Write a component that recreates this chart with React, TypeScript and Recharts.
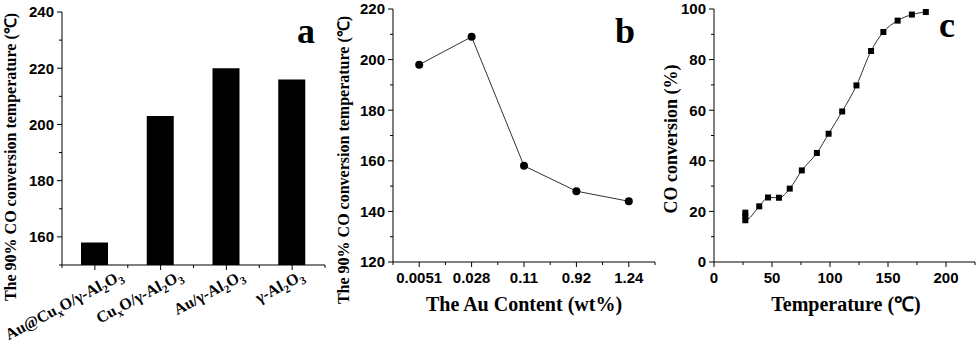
import React from 'react';
import { BarChart, Bar, LineChart, Line, XAxis, YAxis } from 'recharts';

// ---------- data ----------
const catalystNames = ['Au@Cu_xO/γ-Al_2O_3', 'Cu_xO/γ-Al_2O_3', 'Au/γ-Al_2O_3', 'γ-Al_2O_3'];
const t90Temps = [158, 203, 220, 216];

const auContents = ['0.0051', '0.028', '0.11', '0.92', '1.24'];
const auT90 = [198, 209, 158, 148, 144];

const tempC = [27, 27, 27, 39, 46.6, 56, 65.3, 75.7, 88.7, 98.8, 110.5, 122.8, 135.4, 146, 158.3, 170.6, 182.6];
const coConv = [19.5, 18, 16.5, 22, 25.5, 25.4, 29, 36.2, 43.1, 50.7, 59.5, 69.8, 83.4, 90.9, 95.4, 97.8, 98.8];

const yTicksA = [150, 160, 170, 180, 190, 200, 210, 220, 230, 240];
const yTicksB = [120, 130, 140, 150, 160, 170, 180, 190, 200, 210, 220];
const yTicksC = [0, 10, 20, 30, 40, 50, 60, 70, 80, 90, 100];
const xTicksC = [0, 25, 50, 75, 100, 125, 150, 175, 200, 225];

const barData = catalystNames.map((name, i) => ({ name, value: t90Temps[i] }));
const auData = auContents.map((name, i) => ({ name, value: auT90[i] }));
const convData = tempC.map((t, i) => ({ t, v: coConv[i] }));

// ---------- styles ----------
const SANS = "'Liberation Sans', Arial, sans-serif";
const SERIF = "'Liberation Serif', 'Times New Roman', serif";
const INK = '#000';

function parseRich(label: string) {
  const segs: { text: string; sub: boolean }[] = [];
  let buf = '';
  for (let i = 0; i < label.length; i++) {
    if (label[i] === '_') {
      if (buf) segs.push({ text: buf, sub: false });
      buf = '';
      segs.push({ text: label[i + 1], sub: true });
      i++;
    } else buf += label[i];
  }
  if (buf) segs.push({ text: buf, sub: false });
  return segs;
}

const YTick = (major: number) => (props: any) => {
  const { x, y, payload } = props;
  const isMajor = payload.value % major === 0;
  return (
    <g>
      <line x1={x - (isMajor ? 5 : 3)} x2={x} y1={y} y2={y} stroke={INK} strokeWidth={1} />
      {isMajor && (
        <text x={x - 8} y={y} dy="0.36em" textAnchor="end" fontFamily={SANS} fontWeight="bold" fontSize={15} fill={INK}>
          {payload.value}
        </text>
      )}
    </g>
  );
};

const XTickNum = (major: number) => (props: any) => {
  const { x, y, payload } = props;
  const isMajor = payload.value % major === 0;
  return (
    <g>
      <line x1={x} x2={x} y1={y} y2={y + (isMajor ? 5 : 3)} stroke={INK} strokeWidth={1} />
      {isMajor && (
        <text x={x} y={y + 21} textAnchor="middle" fontFamily={SANS} fontWeight="bold" fontSize={15} fill={INK}>
          {payload.value}
        </text>
      )}
    </g>
  );
};

const XTickCatB = (props: any) => {
  const { x, y, payload, index, visibleTicksCount } = props;
  const half = payload.offset || 26.2;
  const last = index === (visibleTicksCount ?? auContents.length) - 1;
  return (
    <g>
      <line x1={x} x2={x} y1={y} y2={y + 5} stroke={INK} />
      <line x1={x - half} x2={x - half} y1={y} y2={y + 3} stroke={INK} />
      {last && <line x1={x + half} x2={x + half} y1={y} y2={y + 3} stroke={INK} />}
      <text x={x} y={y + 21} textAnchor="middle" fontFamily={SANS} fontWeight="bold" fontSize={15} fill={INK}>
        {payload.value}
      </text>
    </g>
  );
};

const XTickCatA = (props: any) => {
  const { x, y, payload, index, visibleTicksCount } = props;
  const half = payload.offset || 32.9;
  const last = index === (visibleTicksCount ?? catalystNames.length) - 1;
  const segs = parseRich(String(payload.value));
  const nChars = segs.reduce((s, g) => s + g.text.length, 0);
  const ax = x + 2 * nChars - 1;
  const ay = y + 14;
  let prevSub = false;
  return (
    <g>
      <line x1={x} x2={x} y1={y} y2={y + 5} stroke={INK} />
      <line x1={x - half} x2={x - half} y1={y} y2={y + 3} stroke={INK} />
      {last && <line x1={x + half} x2={x + half} y1={y} y2={y + 3} stroke={INK} />}
      <g transform={`translate(${ax},${ay}) rotate(-28)`}>
        <text x={0} y={0} textAnchor="end" fontFamily={SERIF} fontWeight="bold" fontSize={16} fill={INK}>
          {segs.map((s, i) => {
            const dy = s.sub ? 4 : prevSub ? -4 : 0;
            prevSub = s.sub;
            return (
              <tspan key={i} dy={dy} fontSize={s.sub ? 11 : 16}>
                {s.text}
              </tspan>
            );
          })}
        </text>
      </g>
    </g>
  );
};

const SquareDot = (props: any) => {
  const { cx, cy } = props;
  if (cx == null || cy == null) return null;
  return <rect x={cx - 3} y={cy - 3} width={6} height={6} fill={INK} />;
};

const CircleDot = (props: any) => {
  const { cx, cy } = props;
  if (cx == null || cy == null) return null;
  return <circle cx={cx} cy={cy} r={4} fill={INK} />;
};

const frameAxis = { stroke: INK, strokeWidth: 1 };

export default function App() {
  return (
    <div style={{ position: 'absolute', left: 0, top: 0, width: 980, height: 346, background: '#fff' }}>
      {/* Panel a */}
      <div style={{ position: 'absolute', left: 0, top: 0 }}>
        <BarChart width={330} height={346} data={barData} margin={{ top: 12, right: 5, bottom: 0, left: 0 }}>
          <XAxis
            dataKey="name"
            height={81}
            interval={0}
            tickSize={0}
            tickMargin={0}
            tickLine={false}
            axisLine={frameAxis}
            tick={XTickCatA}
          />
          <XAxis xAxisId="top" dataKey="name" orientation="top" height={0} tick={false} tickLine={false} axisLine={frameAxis} />
          <YAxis
            width={62}
            domain={[150, 240]}
            ticks={yTicksA}
            interval={0}
            allowDataOverflow
            tickSize={0}
            tickMargin={0}
            tickLine={false}
            axisLine={frameAxis}
            tick={YTick(20)}
          />
          <YAxis yAxisId="right" orientation="right" width={0} domain={[150, 240]} tick={false} tickLine={false} axisLine={frameAxis} />
          <Bar dataKey="value" fill={INK} barSize={27} isAnimationActive={false} />
        </BarChart>
      </div>

      {/* Panel b */}
      <div style={{ position: 'absolute', left: 330, top: 0 }}>
        <LineChart width={330} height={346} data={auData} margin={{ top: 9, right: 5, bottom: 0, left: 0 }}>
          <XAxis
            dataKey="name"
            scale="band"
            height={84}
            interval={0}
            tickSize={0}
            tickMargin={0}
            tickLine={false}
            axisLine={frameAxis}
            tick={XTickCatB}
          />
          <XAxis xAxisId="top" dataKey="name" orientation="top" height={0} tick={false} tickLine={false} axisLine={frameAxis} />
          <YAxis
            width={63}
            domain={[120, 220]}
            ticks={yTicksB}
            interval={0}
            tickSize={0}
            tickMargin={0}
            tickLine={false}
            axisLine={frameAxis}
            tick={YTick(20)}
          />
          <YAxis yAxisId="right" orientation="right" width={0} domain={[120, 220]} tick={false} tickLine={false} axisLine={frameAxis} />
          <Line dataKey="value" stroke="#333" strokeWidth={1} dot={CircleDot} activeDot={false} isAnimationActive={false} />
        </LineChart>
      </div>

      {/* Panel c */}
      <div style={{ position: 'absolute', left: 650, top: 0 }}>
        <LineChart width={330} height={346} data={convData} margin={{ top: 9, right: 5, bottom: 0, left: 0 }}>
          <XAxis
            dataKey="t"
            type="number"
            domain={[0, 225]}
            ticks={xTicksC}
            interval={0}
            height={84}
            tickSize={0}
            tickMargin={0}
            tickLine={false}
            axisLine={frameAxis}
            tick={XTickNum(50)}
          />
          <XAxis xAxisId="top" dataKey="t" type="number" domain={[0, 225]} orientation="top" height={0} tick={false} tickLine={false} axisLine={frameAxis} />
          <YAxis
            width={64}
            domain={[0, 100]}
            ticks={yTicksC}
            interval={0}
            tickSize={0}
            tickMargin={0}
            tickLine={false}
            axisLine={frameAxis}
            tick={YTick(20)}
          />
          <YAxis yAxisId="right" orientation="right" width={0} domain={[0, 100]} tick={false} tickLine={false} axisLine={frameAxis} />
          <Line type="monotone" dataKey="v" stroke="#333" strokeWidth={1} dot={SquareDot} activeDot={false} isAnimationActive={false} />
        </LineChart>
      </div>

      {/* titles and panel letters */}
      <svg width={980} height={346} style={{ position: 'absolute', left: 0, top: 0, pointerEvents: 'none' }}>
        <g fontFamily={SERIF} fontWeight="bold" fill={INK}>
          <text x={16} y={157} fontSize={16} textAnchor="middle" transform="rotate(-90, 16, 157)">
            The 90% CO conversion temperature (℃)
          </text>
          <text x={349} y={160} fontSize={16} textAnchor="middle" transform="rotate(-90, 349, 160)">
            The 90% CO conversion temperature (℃)
          </text>
          <text x={677} y={139} fontSize={18} textAnchor="middle" transform="rotate(-90, 677, 139)">
            CO conversion (%)
          </text>
          <text x={524} y={311} fontSize={20} textAnchor="middle">The Au Content (wt%)</text>
          <text x={846} y={311} fontSize={20} textAnchor="middle">Temperature (℃)</text>
          <text x={315} y={43} fontSize={36} textAnchor="end">a</text>
          <text x={635} y={43} fontSize={36} textAnchor="end">b</text>
          <text x={955} y={37} fontSize={36} textAnchor="end">c</text>
        </g>
      </svg>
    </div>
  );
}
